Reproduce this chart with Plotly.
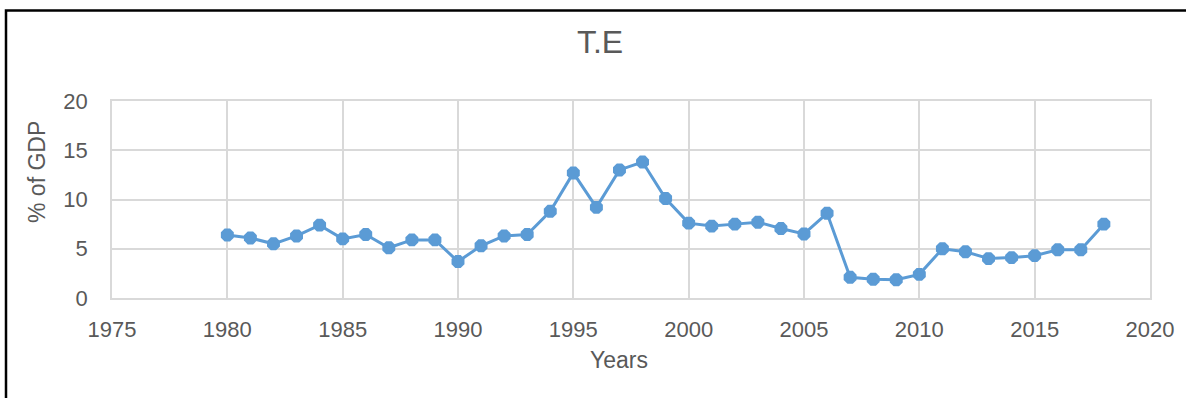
import plotly.graph_objects as go

years = list(range(1980, 2019))
te_pct_gdp = [6.4, 6.1, 5.5, 6.3, 7.4, 6.0, 6.45, 5.1, 5.9, 5.9,
              3.7, 5.3, 6.3, 6.45, 8.8, 12.7, 9.2, 13.0, 13.8, 10.1,
              7.6, 7.3, 7.5, 7.7, 7.05, 6.5, 8.6, 2.1, 1.9, 1.85,
              2.4, 5.0, 4.7, 4.0, 4.1, 4.3, 4.9, 4.9, 7.5]

x_ticks = [1975, 1980, 1985, 1990, 1995, 2000, 2005, 2010, 2015, 2020]
y_ticks = [0, 5, 10, 15, 20]

FONT = "Liberation Sans, Arial, sans-serif"
TXT = "#595959"
GRID = "#d9d9d9"

W, H = 1186, 398
ML, MR, MT, MB = 112, 36, 101, 100

fig = go.Figure(go.Scatter(
    x=years, y=te_pct_gdp, mode="lines+markers",
    line=dict(color="#5b9bd5", width=3),
    marker=dict(color="#5b9bd5", size=14, symbol="octagon"),
))

# pixel -> paper helpers for the frame and titles
pw, ph = W - ML - MR, H - MT - MB
def px_x(p):
    return (p - ML) / pw
def px_y(p):
    return (H - MB - p) / ph

# outer frame around the chart area (runs off the right and bottom edges)
fig.add_shape(type="rect", xref="paper", yref="paper",
              x0=px_x(6), x1=px_x(1220), y0=px_y(430), y1=px_y(10.5),
              line=dict(color="black", width=2.5), fillcolor="rgba(0,0,0,0)")

# axis titles
fig.add_annotation(text="Years", xref="paper", yref="paper",
                   x=px_x(619), y=px_y(360), xanchor="center", yanchor="middle",
                   showarrow=False, font=dict(size=23, color=TXT))
fig.add_annotation(text="% of GDP", xref="paper", yref="paper",
                   x=px_x(37), y=px_y(172), xanchor="center", yanchor="middle",
                   textangle=-90, showarrow=False, font=dict(size=23, color=TXT))

fig.update_layout(
    width=W, height=H,
    margin=dict(l=ML, r=MR, t=MT, b=MB),
    paper_bgcolor="white", plot_bgcolor="white",
    showlegend=False,
    font=dict(family=FONT, color=TXT, size=22),
    title=dict(text="T.E", x=600 / W, xanchor="center", y=1 - 42 / H, yanchor="middle",
               font=dict(size=32, color=TXT)),
    xaxis=dict(range=[1975, 2020], tickvals=x_ticks, showgrid=True, gridcolor=GRID, gridwidth=1.5,
               showline=True, linecolor=GRID, linewidth=1.5, mirror=True, zeroline=False,
               ticks="outside", ticklen=11, tickcolor="rgba(0,0,0,0)",
               tickfont=dict(size=22, color=TXT)),
    yaxis=dict(range=[0, 20], tickvals=y_ticks, showgrid=True, gridcolor=GRID, gridwidth=1.5,
               showline=True, linecolor=GRID, linewidth=1.5, mirror=True, zeroline=False,
               ticks="outside", ticklen=18, tickcolor="rgba(0,0,0,0)",
               tickfont=dict(size=22, color=TXT)),
)

fig.write_html("out.html")
